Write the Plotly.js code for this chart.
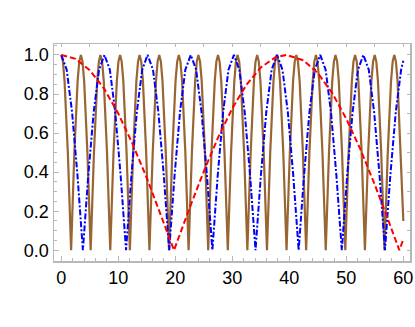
<!DOCTYPE html>
<html>
<head>
<meta charset="utf-8">
<script src="https://cdn.plot.ly/plotly-3.0.1.min.js"></script>
<style>body{margin:0;background:#fff}#plot{width:415px;height:327px}</style>
</head>
<body>
<div id="plot"></div>
<script>
// brown curve (peaks ~ every 3.44)
var brownX = [
  0, 0.29, 0.57, 1.15, 1.72, 2.29, 2.86, 3.15,
  3.44, 3.72, 4.01, 4.58, 5.15, 5.73, 6.30, 6.59,
  6.87, 7.16, 7.45, 8.02, 8.59, 9.16, 9.74, 10.02,
  10.31, 10.59, 10.88, 11.45, 12.03, 12.60, 13.17, 13.46,
  13.74, 14.03, 14.32, 14.89, 15.46, 16.04, 16.61, 16.89,
  17.18, 17.47, 17.75, 18.33, 18.90, 19.47, 20.04, 20.33,
  20.62, 20.90, 21.19, 21.76, 22.33, 22.91, 23.48, 23.77,
  24.05, 24.34, 24.63, 25.20, 25.77, 26.34, 26.92, 27.20,
  27.49, 27.77, 28.06, 28.63, 29.21, 29.78, 30.35, 30.64,
  30.92, 31.21, 31.50, 32.07, 32.64, 33.22, 33.79, 34.07,
  34.36, 34.65, 34.93, 35.51, 36.08, 36.65, 37.22, 37.51,
  37.80, 38.08, 38.37, 38.94, 39.51, 40.09, 40.66, 40.95,
  41.23, 41.52, 41.81, 42.38, 42.95, 43.52, 44.10, 44.38,
  44.67, 44.95, 45.24, 45.81, 46.39, 46.96, 47.53, 47.82,
  48.10, 48.39, 48.68, 49.25, 49.82, 50.40, 50.97, 51.25,
  51.54, 51.83, 52.11, 52.69, 53.26, 53.83, 54.40, 54.69,
  54.98, 55.26, 55.55, 56.12, 56.69, 57.27, 57.84, 58.13,
  58.41, 58.70, 58.99, 59.56, 60];
var brownY = [
  1, .966, .866, .5, 0, .5, .866, .966,
  1, .966, .866, .5, 0, .5, .866, .966,
  1, .966, .866, .5, 0, .5, .866, .966,
  1, .966, .866, .5, 0, .5, .866, .966,
  1, .966, .866, .5, 0, .5, .866, .966,
  1, .966, .866, .5, 0, .5, .866, .966,
  1, .966, .866, .5, 0, .5, .866, .966,
  1, .966, .866, .5, 0, .5, .866, .966,
  1, .966, .866, .5, 0, .5, .866, .966,
  1, .966, .866, .5, 0, .5, .866, .966,
  1, .966, .866, .5, 0, .5, .866, .966,
  1, .966, .866, .5, 0, .5, .866, .966,
  1, .966, .866, .5, 0, .5, .866, .966,
  1, .966, .866, .5, 0, .5, .866, .966,
  1, .966, .866, .5, 0, .5, .866, .966,
  1, .966, .866, .5, 0, .5, .866, .966,
  1, .966, .866, .5, 0, .5, .866, .966,
  1, .966, .866, .5, 0.15];

// blue dot-dashed curve (peaks ~ every 7.57)
var blueX = [0, 0.95, 1.89, 2.84, 3.79, 4.73, 5.68, 6.62, 7.57, 8.52, 9.46, 10.41,
  11.36, 12.30, 13.25, 14.19, 15.14, 16.09, 17.03, 17.98, 18.93, 19.87, 20.82, 21.76,
  22.71, 23.66, 24.60, 25.55, 26.50, 27.44, 28.39, 29.33, 30.28, 31.23, 32.17, 33.12,
  34.07, 35.01, 35.96, 36.90, 37.85, 38.80, 39.74, 40.69, 41.64, 42.58, 43.53, 44.47,
  45.42, 46.37, 47.31, 48.26, 49.21, 50.15, 51.10, 52.04, 52.99, 53.94, 54.88, 55.83,
  56.78, 57.72, 58.67, 59.61, 60];
var blueY = [1, .924, .707, .383, 0, .383, .707, .924, 1, .924, .707, .383,
  0, .383, .707, .924, 1, .924, .707, .383, 0, .383, .707, .924,
  1, .924, .707, .383, 0, .383, .707, .924, 1, .924, .707, .383,
  0, .383, .707, .924, 1, .924, .707, .383, 0, .383, .707, .924,
  1, .924, .707, .383, 0, .383, .707, .924, 1, .924, .707, .383,
  0, .383, .707, .924, 0.97];

// red dashed curve
var redX = [0, 2.5, 5, 7.5, 10, 12.5, 15, 17.5, 19.77, 22.5, 25, 27.5, 30, 32.5, 35,
  37.5, 39.53, 42.5, 45, 47.5, 50, 52.5, 55, 57.5, 59.3, 60];
var redY = [1, 0.980, 0.922, 0.828, 0.700, 0.545, 0.370, 0.179, 0, 0.216, 0.404, 0.577,
  0.727, 0.848, 0.936, 0.987, 1, 0.972, 0.907, 0.806, 0.673, 0.515, 0.335, 0.143, 0, 0.056];

var xTicks = [0, 10, 20, 30, 40, 50, 60];
var yTicks = [0, 0.2, 0.4, 0.6, 0.8, 1.0];
var yTickText = ['0.0', '0.2', '0.4', '0.6', '0.8', '1.0'];

var data = [
  {x: brownX, y: brownY, type: 'scatter', mode: 'lines',
   line: {color: '#996633', width: 2.2}, hoverinfo: 'skip'},
  {x: blueX, y: blueY, type: 'scatter', mode: 'lines',
   line: {color: '#0000ff', width: 2, dash: '6px,2px,2px,2px'}, hoverinfo: 'skip'},
  {x: redX, y: redY, type: 'scatter', mode: 'lines',
   line: {color: '#ff0000', width: 2, dash: '6px,3px'}, hoverinfo: 'skip'}
];

var frame = '#b8b8b8';
var layout = {
  width: 415, height: 327,
  margin: {l: 54, r: 5, t: 44, b: 66},
  showlegend: false,
  paper_bgcolor: '#fff', plot_bgcolor: '#fff',
  font: {family: 'Liberation Sans, Arial, sans-serif', size: 18, color: '#000'},
  xaxis: {
    range: [-1.28, 61.17], showgrid: false, zeroline: false,
    showline: true, linecolor: frame, linewidth: 1.5, mirror: true,
    ticks: 'inside', ticklen: 5, tickcolor: frame, tickwidth: 1,
    tickvals: xTicks,
    minor: {dtick: 2, ticks: 'inside', ticklen: 3, tickcolor: frame, showgrid: false}
  },
  yaxis: {
    range: [-0.055, 1.056], showgrid: false, zeroline: false,
    showline: true, linecolor: frame, linewidth: 1.5, mirror: true,
    ticks: 'inside', ticklen: 5, tickcolor: frame, tickwidth: 1,
    tickvals: yTicks, ticktext: yTickText,
    minor: {dtick: 0.05, ticks: 'inside', ticklen: 3, tickcolor: frame, showgrid: false}
  },
  xaxis2: {
    overlaying: 'x', side: 'top', range: [-1.28, 61.17], showgrid: false,
    zeroline: false, showticklabels: false, ticks: 'inside', ticklen: 3,
    tickcolor: frame, dtick: 5, tick0: 0
  },
  yaxis2: {
    overlaying: 'y', side: 'right', range: [-0.055, 1.056], showgrid: false,
    zeroline: false, showticklabels: false, ticks: 'inside', ticklen: 3,
    tickcolor: frame, dtick: 0.1, tick0: 0
  }
};

// invisible trace so the top/right tick axes get drawn
data.push({x: [0], y: [0], xaxis: 'x2', yaxis: 'y2', mode: 'markers',
  marker: {opacity: 0}, hoverinfo: 'skip'});

Plotly.newPlot('plot', data, layout, {staticPlot: true});
</script>
</body>
</html>
